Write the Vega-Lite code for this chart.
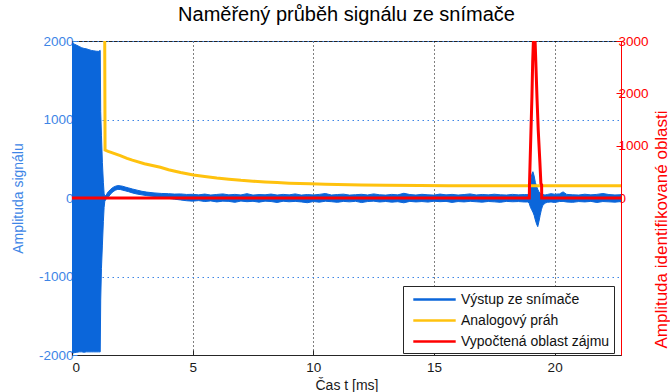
{
  "$schema": "https://vega.github.io/schema/vega-lite/v6.json",
  "width": 549,
  "height": 314,
  "autosize": {"type": "none"},
  "padding": {"left": 72, "top": 41, "right": 49, "bottom": 37},
  "background": "#ffffff",
  "title": {"text": "Naměřený průběh signálu ze snímače", "fontSize": 20, "fontWeight": "normal", "font": "Liberation Sans", "color": "#000000", "offset": 9, "anchor": "middle"},
  "config": {
    "view": {"stroke": "#262626", "strokeWidth": 1},
    "font": "Liberation Sans",
    "axis": {"labelFont": "Liberation Sans", "titleFont": "Liberation Sans", "labelFontSize": 13.5, "titleFontSize": 14, "titleFontWeight": "normal", "tickSize": -5, "tickWidth": 1}
  },
  "datasets": {
    "signal": [
      {"t": 0.0, "lo": -1960, "hi": 1980},
      {"t": 0.05, "lo": -1975, "hi": 1975},
      {"t": 0.1, "lo": -1970, "hi": 1960},
      {"t": 0.2, "lo": -1965, "hi": 1945},
      {"t": 0.3, "lo": -1960, "hi": 1930},
      {"t": 0.4, "lo": -1960, "hi": 1915},
      {"t": 0.5, "lo": -1965, "hi": 1905},
      {"t": 0.6, "lo": -1960, "hi": 1900},
      {"t": 0.7, "lo": -1960, "hi": 1890},
      {"t": 0.8, "lo": -1960, "hi": 1880},
      {"t": 0.9, "lo": -1960, "hi": 1875},
      {"t": 1.0, "lo": -1960, "hi": 1870},
      {"t": 1.1, "lo": -1960, "hi": 1868},
      {"t": 1.17, "lo": -1960, "hi": 1880},
      {"t": 1.19, "lo": -1300, "hi": 1100},
      {"t": 1.22, "lo": -900, "hi": 800},
      {"t": 1.26, "lo": -600, "hi": 450},
      {"t": 1.3, "lo": -300, "hi": 200},
      {"t": 1.33, "lo": -120, "hi": 60},
      {"t": 1.36, "lo": -40, "hi": 20},
      {"t": 1.42, "lo": -10, "hi": 40},
      {"t": 1.5, "lo": 10, "hi": 80},
      {"t": 1.6, "lo": 50, "hi": 110},
      {"t": 1.7, "lo": 80, "hi": 135},
      {"t": 1.8, "lo": 100, "hi": 150},
      {"t": 1.9, "lo": 110, "hi": 158},
      {"t": 2.0, "lo": 108, "hi": 155},
      {"t": 2.1, "lo": 100, "hi": 150},
      {"t": 2.2, "lo": 92, "hi": 140},
      {"t": 2.35, "lo": 80, "hi": 128},
      {"t": 2.5, "lo": 65, "hi": 115},
      {"t": 2.7, "lo": 50, "hi": 100},
      {"t": 2.9, "lo": 40, "hi": 85},
      {"t": 3.1, "lo": 30, "hi": 75},
      {"t": 3.4, "lo": 20, "hi": 65},
      {"t": 3.7, "lo": 10, "hi": 58},
      {"t": 4.0, "lo": -5, "hi": 55},
      {"t": 4.25, "lo": -15, "hi": 50},
      {"t": 4.5, "lo": -25, "hi": 52},
      {"t": 4.75, "lo": -35, "hi": 45},
      {"t": 5.0, "lo": -40, "hi": 47},
      {"t": 5.25, "lo": -33, "hi": 40},
      {"t": 5.5, "lo": -45, "hi": 50},
      {"t": 5.75, "lo": -37, "hi": 38},
      {"t": 6.0, "lo": -50, "hi": 45},
      {"t": 6.25, "lo": -40, "hi": 52},
      {"t": 6.5, "lo": -43, "hi": 40},
      {"t": 6.75, "lo": -55, "hi": 46},
      {"t": 7.0, "lo": -39, "hi": 39},
      {"t": 7.25, "lo": -47, "hi": 55},
      {"t": 7.5, "lo": -42, "hi": 37},
      {"t": 7.75, "lo": -53, "hi": 44},
      {"t": 8.0, "lo": -40, "hi": 41},
      {"t": 8.25, "lo": -45, "hi": 50},
      {"t": 8.5, "lo": -57, "hi": 38},
      {"t": 8.75, "lo": -41, "hi": 46},
      {"t": 9.0, "lo": -48, "hi": 40},
      {"t": 9.25, "lo": -43, "hi": 52},
      {"t": 9.5, "lo": -50, "hi": 37},
      {"t": 9.75, "lo": -60, "hi": 44},
      {"t": 10.0, "lo": -45, "hi": 39},
      {"t": 10.25, "lo": -53, "hi": 46},
      {"t": 10.5, "lo": -41, "hi": 57},
      {"t": 10.75, "lo": -47, "hi": 38},
      {"t": 11.0, "lo": -55, "hi": 44},
      {"t": 11.25, "lo": -43, "hi": 49},
      {"t": 11.5, "lo": -49, "hi": 37},
      {"t": 11.75, "lo": -42, "hi": 42},
      {"t": 12.0, "lo": -58, "hi": 47},
      {"t": 12.25, "lo": -45, "hi": 39},
      {"t": 12.5, "lo": -40, "hi": 52},
      {"t": 12.75, "lo": -51, "hi": 41},
      {"t": 13.0, "lo": -44, "hi": 37},
      {"t": 13.25, "lo": -53, "hi": 46},
      {"t": 13.5, "lo": -47, "hi": 40},
      {"t": 13.75, "lo": -61, "hi": 60},
      {"t": 14.0, "lo": -43, "hi": 44},
      {"t": 14.25, "lo": -50, "hi": 38},
      {"t": 14.5, "lo": -45, "hi": 47},
      {"t": 14.75, "lo": -52, "hi": 41},
      {"t": 15.0, "lo": -41, "hi": 37},
      {"t": 15.25, "lo": -47, "hi": 50},
      {"t": 15.5, "lo": -43, "hi": 40},
      {"t": 15.75, "lo": -56, "hi": 46},
      {"t": 16.0, "lo": -45, "hi": 38},
      {"t": 16.25, "lo": -50, "hi": 44},
      {"t": 16.5, "lo": -42, "hi": 52},
      {"t": 16.75, "lo": -48, "hi": 39},
      {"t": 17.0, "lo": -53, "hi": 45},
      {"t": 17.25, "lo": -44, "hi": 40},
      {"t": 17.5, "lo": -49, "hi": 48},
      {"t": 17.75, "lo": -55, "hi": 41},
      {"t": 18.0, "lo": -43, "hi": 38},
      {"t": 18.25, "lo": -48, "hi": 46},
      {"t": 18.5, "lo": -45, "hi": 40},
      {"t": 18.75, "lo": -51, "hi": 44},
      {"t": 18.9, "lo": -50, "hi": 42},
      {"t": 18.95, "lo": -70, "hi": 80},
      {"t": 19.0, "lo": -120, "hi": 200},
      {"t": 19.05, "lo": -150, "hi": 300},
      {"t": 19.1, "lo": -180, "hi": 335},
      {"t": 19.15, "lo": -220, "hi": 280},
      {"t": 19.2, "lo": -280, "hi": 200},
      {"t": 19.25, "lo": -330, "hi": 150},
      {"t": 19.3, "lo": -365, "hi": 110},
      {"t": 19.35, "lo": -300, "hi": 80},
      {"t": 19.4, "lo": -220, "hi": 60},
      {"t": 19.45, "lo": -150, "hi": 50},
      {"t": 19.5, "lo": -100, "hi": 45},
      {"t": 19.6, "lo": -65, "hi": 38},
      {"t": 19.7, "lo": -55, "hi": 45},
      {"t": 19.85, "lo": -50, "hi": 55},
      {"t": 20.0, "lo": -57, "hi": 48},
      {"t": 20.2, "lo": -45, "hi": 52},
      {"t": 20.35, "lo": -43, "hi": 78},
      {"t": 20.5, "lo": -51, "hi": 46},
      {"t": 20.75, "lo": -55, "hi": 41},
      {"t": 21.0, "lo": -45, "hi": 38},
      {"t": 21.25, "lo": -50, "hi": 48},
      {"t": 21.5, "lo": -43, "hi": 40},
      {"t": 21.75, "lo": -57, "hi": 46},
      {"t": 22.0, "lo": -45, "hi": 57},
      {"t": 22.25, "lo": -49, "hi": 44},
      {"t": 22.5, "lo": -53, "hi": 39},
      {"t": 22.75, "lo": -45, "hi": 42}
    ],
    "threshold": [
      {"t": 1.35, "v": 2600},
      {"t": 1.37, "v": 611},
      {"t": 1.5, "v": 595},
      {"t": 2.0, "v": 540},
      {"t": 2.28, "v": 505},
      {"t": 2.5, "v": 482},
      {"t": 3.0, "v": 437},
      {"t": 3.66, "v": 391},
      {"t": 4.0, "v": 360},
      {"t": 4.5, "v": 325},
      {"t": 5.03, "v": 293},
      {"t": 5.5, "v": 275},
      {"t": 6.0, "v": 255},
      {"t": 6.5, "v": 240},
      {"t": 7.0, "v": 225},
      {"t": 7.5, "v": 214},
      {"t": 8.0, "v": 205},
      {"t": 8.5, "v": 196},
      {"t": 9.0, "v": 189},
      {"t": 9.87, "v": 180},
      {"t": 10.5, "v": 175},
      {"t": 11.0, "v": 171},
      {"t": 12.0, "v": 166},
      {"t": 13.0, "v": 162},
      {"t": 14.4, "v": 159},
      {"t": 15.6, "v": 157},
      {"t": 22.75, "v": 156}
    ],
    "roi": [
      {"t": 0.0, "v": 0},
      {"t": 18.95, "v": 0},
      {"t": 18.96, "v": 300},
      {"t": 19.02, "v": 1300},
      {"t": 19.06, "v": 1950},
      {"t": 19.09, "v": 2600},
      {"t": 19.12, "v": 3000},
      {"t": 19.19, "v": 3000},
      {"t": 19.22, "v": 2600},
      {"t": 19.27, "v": 1900},
      {"t": 19.32, "v": 1300},
      {"t": 19.39, "v": 670},
      {"t": 19.43, "v": 280},
      {"t": 19.46, "v": 250},
      {"t": 19.465, "v": 0},
      {"t": 22.75, "v": 0}
    ]
  },
  "layer": [
    {
      "layer": [
        {
          "data": {"name": "signal"},
          "mark": {"type": "area", "clip": true, "strokeWidth": 1, "fill": "#0b66da", "fillOpacity": 1},
          "encoding": {
            "x": {"field": "t", "type": "quantitative", "scale": {"domain": [0, 22.75], "nice": false, "zero": false},
              "axis": {"title": "Čas t [ms]", "values": [0, 5, 10, 15, 20], "grid": true, "gridColor": "#000000", "gridDash": [1, 3], "gridOpacity": 1, "domainColor": "#262626", "tickColor": "#262626", "labelColor": "#1a1a1a", "labelPadding": 10, "titlePadding": 5, "titleColor": "#1a1a1a"}},
            "y": {"field": "lo", "type": "quantitative", "scale": {"domain": [-2000, 2000], "nice": false, "zero": false},
              "axis": {"title": "Amplituda signálu", "values": [-2000, -1000, 0, 1000, 2000], "labelExpr": "'' + datum.value", "grid": true, "gridColor": "#3d85e6", "gridDash": [1.5, 3.5], "domainColor": "#262626", "tickColor": "#3d85e6", "labelColor": "#3d85e6", "titleColor": "#3d85e6", "labelPadding": 4, "titleAngle": 270, "titleBaseline": "middle", "titleX": -54, "titleY": 157}},
            "y2": {"field": "hi"},
            "stroke": {"datum": "Výstup ze snímače", "type": "nominal", "scale": {"domain": ["Výstup ze snímače", "Analogový práh", "Vypočtená oblast zájmu"], "range": ["#0b66da", "#ffc20e", "#ff0000"]},
              "legend": {"orient": "none", "legendX": 331, "legendY": 245, "title": null, "symbolType": "M-0.4,0H4.9", "symbolSize": 256, "symbolStrokeWidth": 2.5, "labelFont": "Liberation Sans", "labelFontSize": 14, "labelColor": "#111111", "strokeColor": "#262626", "fillColor": "#ffffff", "padding": 4, "rowPadding": 4, "labelOffset": 35}}
          }
        },
        {
          "data": {"name": "threshold"},
          "mark": {"type": "line", "clip": true, "strokeWidth": 3},
          "encoding": {
            "x": {"field": "t", "type": "quantitative"},
            "y": {"field": "v", "type": "quantitative"},
            "stroke": {"datum": "Analogový práh", "type": "nominal"}
          }
        }
      ]
    },
    {
      "data": {"name": "roi"},
      "mark": {"type": "line", "clip": true, "strokeWidth": 3},
      "encoding": {
        "x": {"field": "t", "type": "quantitative"},
        "y": {"field": "v", "type": "quantitative", "scale": {"domain": [-3000, 3000], "nice": false, "zero": false},
          "axis": {"orient": "right", "title": "Amplituda identifikované oblasti", "values": [0, 1000, 2000, 3000], "labelExpr": "'' + datum.value", "grid": false, "domainColor": "#ff0000", "tickColor": "#ff0000", "labelColor": "#ff0000", "titleColor": "#ff0000", "labelPadding": 2, "titleFontSize": 17, "titleAngle": 270, "titleBaseline": "middle", "titleX": 40, "titleY": 188}},
        "stroke": {"datum": "Vypočtená oblast zájmu", "type": "nominal"}
      }
    }
  ],
  "resolve": {"scale": {"y": "independent"}}
}
